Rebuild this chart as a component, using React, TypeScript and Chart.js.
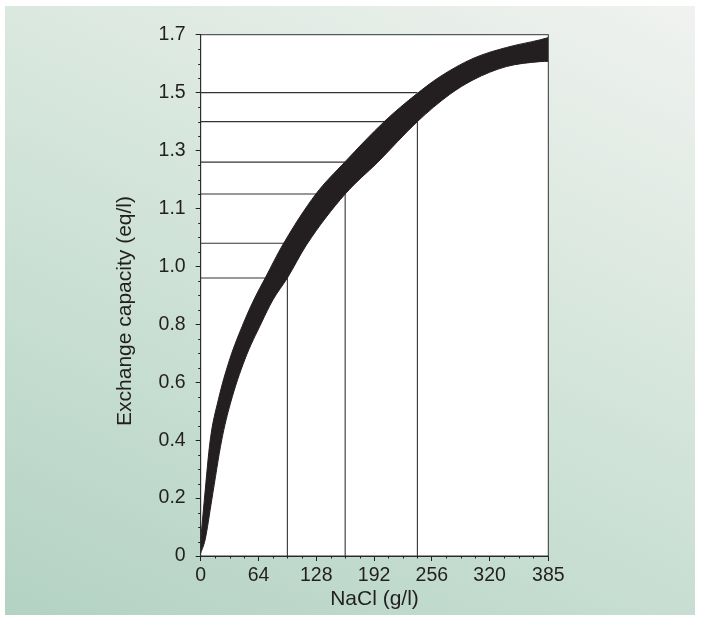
import React, { useEffect, useRef } from "react";
import { Chart, registerables } from "chart.js";

Chart.register(...registerables);

// ---- Axis ticks ----
const X_TICKS = [0, 64, 128, 192, 256, 320, 385];
const Y_TICK_VALUES = [0, 0.2, 0.4, 0.6, 0.8, 1.0, 1.1, 1.3, 1.5, 1.7];
const Y_TICK_LABELS = ["0", "0.2", "0.4", "0.6", "0.8", "1.0", "1.1", "1.3", "1.5", "1.7"];

// ---- Band (upper / lower edge), NaCl g/l -> eq/l ----
const UPPER_X = [0, 4, 10.6, 19.5, 31.9, 47.9, 58.8, 72, 90.8, 127.6, 159.5, 204, 239, 264.5, 301.6, 338.8, 375.4, 385];
const UPPER_Y = [0.055, 0.193, 0.401, 0.539, 0.677, 0.808, 0.884, 0.963, 1.037, 1.15, 1.26, 1.402, 1.495, 1.554, 1.618, 1.656, 1.682, 1.69];
const LOWER_X = [0, 4.8, 12.2, 23.3, 33, 48.7, 67.7, 79.9, 96, 117.1, 160, 196.2, 240, 275.9, 301.7, 338.6, 375.8, 385];
const LOWER_Y = [0.01, 0.055, 0.193, 0.401, 0.528, 0.677, 0.808, 0.884, 0.96, 1.037, 1.15, 1.26, 1.4, 1.494, 1.544, 1.59, 1.607, 1.608];

// ---- Reference lines ----
const REF_X = [96, 160, 240];
const REF_LOW = [0.96, 1.15, 1.4];
const REF_HIGH = [1.04, 1.26, 1.5];

const X_TITLE = "NaCl (g/l)";
const Y_TITLE = "Exchange capacity (eq/l)";

const FONT = "'Liberation Sans', Arial, Helvetica, sans-serif";
const INK = "#231f20";

// piecewise-linear mapping onto the evenly spaced y tick positions
function toAxis(v: number): number {
  for (let i = 0; i < Y_TICK_VALUES.length - 1; i++) {
    const a = Y_TICK_VALUES[i];
    const b = Y_TICK_VALUES[i + 1];
    if (v <= b || i === Y_TICK_VALUES.length - 2) {
      return i + (v - a) / (b - a);
    }
  }
  return 0;
}

const decorPlugin = {
  id: "decor",
  beforeDraw(chart: any) {
    const { ctx, chartArea: a } = chart;
    ctx.save();
    ctx.fillStyle = "#ffffff";
    ctx.fillRect(a.left, a.top, a.right - a.left, a.bottom - a.top);
    ctx.restore();
  },
  afterDraw(chart: any) {
    const { ctx, chartArea: a, scales } = chart;
    ctx.save();
    // frame
    ctx.strokeStyle = "#333333";
    ctx.lineWidth = 1;
    ctx.strokeRect(a.left, a.top, a.right - a.left, a.bottom - a.top);
    // minor ticks
    ctx.strokeStyle = INK;
    ctx.beginPath();
    for (let i = 0; i < Y_TICK_VALUES.length - 1; i++) {
      for (let k = 1; k < 4; k++) {
        const py = Math.round(scales.y.getPixelForValue(i + k / 4)) + 0.5;
        ctx.moveTo(a.left - 2.5, py);
        ctx.lineTo(a.left, py);
      }
    }
    for (let v = 16; v < 380; v += 16) {
      if (v % 64 === 0) continue;
      const px = Math.round(scales.x.getPixelForValue(v)) + 0.5;
      ctx.moveTo(px, a.bottom);
      ctx.lineTo(px, a.bottom + 2.5);
    }
    ctx.stroke();
    // axis titles
    ctx.fillStyle = INK;
    ctx.font = `21px ${FONT}`;
    ctx.textAlign = "center";
    ctx.textBaseline = "alphabetic";
    ctx.fillText(X_TITLE, (a.left + a.right) / 2, 605);
    ctx.translate(131, 311);
    ctx.rotate(-Math.PI / 2);
    ctx.fillText(Y_TITLE, 0, 0);
    ctx.restore();
  },
};

export default function App() {
  const ref = useRef<HTMLCanvasElement>(null);

  useEffect(() => {
    document.body.style.margin = "0";
    const canvas = ref.current!;

    const upper = UPPER_X.map((x, i) => ({ x, y: toAxis(UPPER_Y[i]) }));
    const lower = LOWER_X.map((x, i) => ({ x, y: toAxis(LOWER_Y[i]) }));

    const refSets: any[] = [];
    REF_X.forEach((x, i) => {
      refSets.push({
        data: [
          { x: 0, y: toAxis(REF_LOW[i]) },
          { x, y: toAxis(REF_LOW[i]) },
          { x, y: 0 },
        ],
        borderColor: "#333333",
        borderWidth: 1.1,
        pointRadius: 0,
        tension: 0,
        fill: false,
        order: 5,
      });
      refSets.push({
        data: [
          { x: 0, y: toAxis(REF_HIGH[i]) },
          { x, y: toAxis(REF_HIGH[i]) },
        ],
        borderColor: "#333333",
        borderWidth: 1.1,
        pointRadius: 0,
        tension: 0,
        fill: false,
        order: 5,
      });
    });

    const chart = new Chart(canvas, {
      type: "line",
      data: {
        datasets: [
          {
            data: upper,
            borderColor: INK,
            backgroundColor: INK,
            borderWidth: 1,
            pointRadius: 0,
            cubicInterpolationMode: "monotone",
            fill: "+1",
            order: 0,
          },
          {
            data: lower,
            borderColor: INK,
            backgroundColor: INK,
            borderWidth: 1,
            pointRadius: 0,
            cubicInterpolationMode: "monotone",
            fill: false,
            order: 0,
          },
          ...refSets,
        ],
      },
      options: {
        responsive: false,
        animation: false,
        devicePixelRatio: 1,
        layout: { padding: { left: 0, top: 34.7, right: 155.7, bottom: 0 } },
        plugins: {
          legend: { display: false },
          tooltip: { enabled: false },
          title: { display: false },
        },
        scales: {
          x: {
            type: "linear",
            min: 0,
            max: 385,
            afterBuildTicks: (s: any) => {
              s.ticks = X_TICKS.map((v) => ({ value: v }));
            },
            afterFit: (s: any) => {
              s.height = 68;
            },
            ticks: {
              autoSkip: false,
              maxRotation: 0,
              padding: 3,
              color: INK,
              font: { family: FONT, size: 19.5 },
              callback: (v: any) => String(v),
            },
            grid: {
              drawOnChartArea: false,
              drawTicks: true,
              tickLength: 5,
              tickColor: INK,
              tickWidth: 1,
            },
            border: { display: true, color: INK, width: 1 },
          },
          y: {
            type: "linear",
            min: 0,
            max: Y_TICK_VALUES.length - 1,
            afterBuildTicks: (s: any) => {
              s.ticks = Y_TICK_LABELS.map((_, i) => ({ value: i }));
            },
            afterFit: (s: any) => {
              s.width = 200.7;
            },
            ticks: {
              autoSkip: false,
              padding: 10,
              color: INK,
              font: { family: FONT, size: 19.5 },
              callback: (v: any) => Y_TICK_LABELS[Math.round(Number(v))],
            },
            grid: {
              drawOnChartArea: false,
              drawTicks: true,
              tickLength: 5,
              tickColor: INK,
              tickWidth: 1,
            },
            border: { display: true, color: INK, width: 1 },
          },
        },
      },
      plugins: [decorPlugin],
    } as any);

    return () => chart.destroy();
  }, []);

  return (
    <div style={{ position: "relative", width: 704, height: 624, background: "#ffffff", overflow: "hidden" }}>
      <div
        style={{
          position: "absolute",
          left: 5,
          top: 6,
          width: 690,
          height: 609,
          background: "linear-gradient(205deg, #f0f2ef 0%, #d4e5db 45%, #b3d2c4 100%)",
        }}
      />
      <canvas
        ref={ref}
        width={704}
        height={624}
        style={{ position: "absolute", left: 0, top: 0, width: 704, height: 624 }}
      />
    </div>
  );
}
